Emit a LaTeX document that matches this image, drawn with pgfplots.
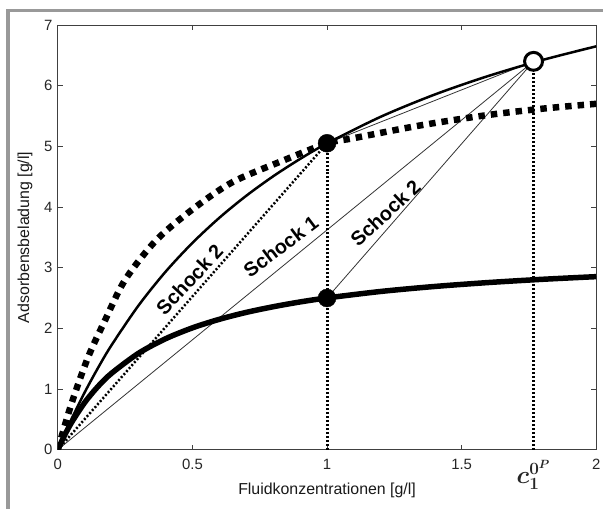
\documentclass[border=0pt]{standalone}
\usepackage{pgfplots}
\pgfplotsset{compat=1.18}
\usepackage{amsmath}
\usepackage{fontspec}
\setmainfont{Liberation Sans}

\begin{document}
\begin{tikzpicture}
\begin{axis}[
  scale only axis, width=540bp, height=426bp,
  xmin=0, xmax=2, ymin=0, ymax=7,
  xtick={0,0.5,1,1.5,2}, xticklabels={0,0.5,1,1.5,2},
  ytick={0,1,...,7},
  tick align=inside, major tick length=5bp,
  xtick pos=both, ytick pos=both, xticklabel pos=lower, yticklabel pos=left,
  axis line style={black!75, line width=0.8bp},
  every tick/.style={black!75, line width=0.8bp},
  /pgf/number format/assume math mode=true,
  tick label style={font=\fontsize{15}{18}\selectfont, text=black!85},
  xticklabel style={yshift=-6bp},
  yticklabel style={xshift=-2bp},
  extra x ticks={1.767},
  extra x tick labels={\fontsize{23}{26}\selectfont$\boldsymbol{c}_{\boldsymbol{1}}^{\boldsymbol{0}^{\boldsymbol{P}}}$},
  extra x tick style={major tick length=0pt, xticklabel style={yshift=-1bp}},
  xlabel={Fluidkonzentrationen [g/l]},
  ylabel={Adsorbensbeladung [g/l]},
  label style={font=\fontsize{16}{19}\selectfont, text=black!90},
  xlabel style={at={(axis description cs:0.5,-0.096)}, anchor=center},
  ylabel style={at={(axis description cs:-0.061,0.5)}, anchor=center},
  clip mode=individual,
]
% straight shock lines
\addplot[black!80, line width=0.8bp] coordinates {(0,0) (1.767,6.40)};
\addplot[black!80, line width=0.8bp] coordinates {(1,2.50) (1.767,6.40)};
\addplot[black!80, line width=0.8bp] coordinates {(1,5.05) (1.767,6.40)};
\addplot[black, line width=2.5bp, dash pattern=on 2bp off 2bp] coordinates {(0,0) (1,5.05)};
% vertical dotted lines
\addplot[black, line width=3bp, dash pattern=on 2bp off 2bp] coordinates {(1,0) (1,5.05)};
\addplot[black, line width=3bp, dash pattern=on 2bp off 2bp] coordinates {(1.767,0) (1.767,6.40)};
% dashed isotherm
\addplot[black, line width=6.5bp, dash pattern=on 6.5bp off 6bp, smooth] coordinates {
(0,0) (0.05,0.75) (0.112,1.52) (0.174,2.12) (0.25,2.80) (0.365,3.45) (0.5,3.96)
(0.649,4.41) (0.834,4.76) (1.0,5.05) (1.094,5.13) (1.341,5.34) (1.588,5.51) (1.8,5.62) (2.0,5.70)};
% thin solid isotherm
\addplot[black, line width=2.5bp, smooth] coordinates {
(0,0) (0.02,0.205) (0.05,0.498) (0.1,0.947) (0.15,1.354) (0.2,1.726) (0.3,2.378)
(0.4,2.932) (0.5,3.408) (0.6,3.822) (0.7,4.185) (0.8,4.506) (0.9,4.792) (1.0,5.048)
(1.2,5.488) (1.4,5.853) (1.6,6.160) (1.8,6.422) (2.0,6.648)};
% thick solid isotherm
\addplot[black, line width=5.5bp, smooth] coordinates {
(0,0) (0.02,0.192) (0.05,0.441) (0.1,0.779) (0.15,1.046) (0.2,1.261) (0.3,1.590)
(0.4,1.828) (0.5,2.008) (0.6,2.149) (0.7,2.263) (0.8,2.356) (0.9,2.435) (1.0,2.501)
(1.2,2.608) (1.4,2.690) (1.6,2.755) (1.8,2.808) (2.0,2.852)};
% points
\addplot[only marks, mark=*, mark size=9bp, black] coordinates {(1,5.05) (1,2.50)};
\addplot[only marks, mark=*, mark size=9bp, mark options={fill=white, draw=black, line width=3bp}] coordinates {(1.767,6.40)};
% labels
\node[font=\fontsize{20}{23}\selectfont\bfseries, rotate=47] at (axis cs:0.489,2.80) {Schock 2};
\node[font=\fontsize{20}{23}\selectfont\bfseries, rotate=37] at (axis cs:0.828,3.35) {Schock 1};
\node[font=\fontsize{20}{23}\selectfont\bfseries, rotate=43] at (axis cs:1.217,3.90) {Schock 2};
\end{axis}
\pgfresetboundingbox
\path (-58bp,-59bp) rectangle (547bp,451bp);
\draw[black!40, line width=3.5bp] (-50bp,-59bp) -- (-50bp,440.5bp) -- (547bp,440.5bp);
\end{tikzpicture}
\end{document}
